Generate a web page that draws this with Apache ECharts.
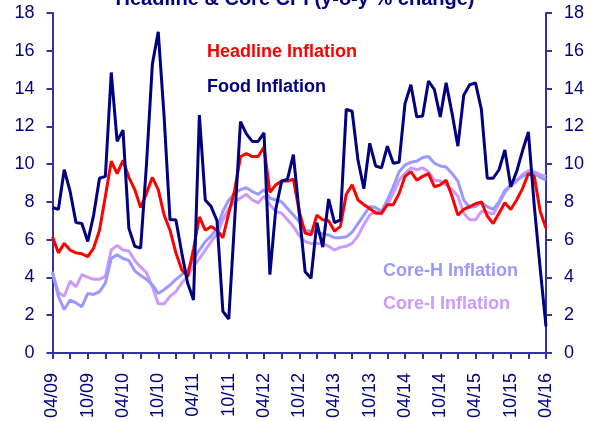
<!DOCTYPE html>
<html>
<head>
<meta charset="utf-8" />
<script src="https://cdn.jsdelivr.net/npm/echarts@6/dist/echarts.min.js"></script>
<style>
  html, body { margin: 0; padding: 0; background: #fff; }
  #chart { width: 590px; height: 421px; }
</style>
</head>
<body>
<div id="chart"></div>
<script>
// monthly, 04/09 .. 04/16
const months = [];
for (let y = 9; y <= 16; y++) {
  for (let m = 1; m <= 12; m++) {
    if ((y === 9 && m < 4) || (y === 16 && m > 4)) continue;
    months.push(String(m).padStart(2, '0') + '/' + String(y).padStart(2, '0'));
  }
}

const headline = [
  6.15, 5.3, 5.8, 5.45, 5.3, 5.25, 5.1, 5.55, 6.5, 8.3, 10.15, 9.5, 10.2, 9.3, 8.65, 7.7, 8.45,
  9.3, 8.65, 7.3, 6.5, 5.3, 4.4, 4.05, 5.5, 7.2, 6.5, 6.7, 6.5, 6.1, 7.4, 8.6, 10.4, 10.55,
  10.4, 10.4, 10.9, 8.5, 8.9, 9.1, 9.1, 9.2, 7.5, 6.35, 6.25, 7.3, 7.05, 7.0, 6.45, 6.7, 8.4,
  8.9, 8.1, 7.85, 7.65, 7.4, 7.4, 7.85, 7.85, 8.45, 9.35, 9.6, 9.15, 9.35, 9.5, 8.8, 8.9, 9.15,
  8.3, 7.3, 7.6, 7.75, 7.9, 8.0, 7.25, 6.85, 7.4, 7.95, 7.6, 8.1, 8.7, 9.5, 9.35, 7.5, 6.6
];
const food = [
  7.7, 7.6, 9.7, 8.55, 6.9, 6.85, 5.9, 7.3, 9.25, 9.35, 14.85, 11.2, 11.8, 6.6, 5.65, 5.55, 10.0,
  15.3, 17.0, 12.5, 7.05, 7.05, 5.3, 3.7, 2.8, 12.6, 8.1, 7.75, 7.0, 2.2, 1.8, 7.0, 12.25, 11.6,
  11.2, 11.2, 11.65, 4.15, 7.6, 9.1, 9.2, 10.5, 7.4, 4.3, 3.95, 6.9, 5.6, 8.15, 6.9, 7.05, 12.9,
  12.8, 10.2, 8.7, 11.1, 9.9, 9.8, 10.95, 10.05, 10.1, 13.2, 14.2, 12.5, 12.55, 14.4, 13.95, 12.5, 14.3,
  12.7, 10.95, 13.65, 14.2, 14.3, 12.9, 9.25, 9.25, 9.7, 10.75, 8.8, 9.6, 10.7, 11.7, 7.8, 4.5, 1.4
];
const coreH = [
  4.3, 3.0, 2.3, 2.8, 2.65, 2.45, 3.15, 3.1, 3.25, 3.7, 5.0, 5.2, 5.0, 4.9, 4.35, 4.1, 3.9,
  3.6, 3.15, 3.35, 3.6, 3.9, 4.15, 4.4, 4.95, 5.45, 5.9, 6.2, 6.6, 7.5, 8.1, 8.45, 8.65, 8.75,
  8.55, 8.4, 8.65, 8.2, 8.1, 8.0, 7.65, 7.3, 6.95, 6.5, 6.45, 6.4, 6.3, 6.25, 6.1, 6.1, 6.15,
  6.4, 6.85, 7.3, 7.75, 7.7, 7.5, 8.1, 8.8, 9.6, 9.95, 10.1, 10.15, 10.35, 10.4, 10.05, 9.9, 9.85,
  9.5, 9.1, 8.1, 7.7, 7.75, 7.95, 7.75, 7.6, 8.0, 8.6, 8.9, 9.15, 9.35, 9.5, 9.5, 9.3, 9.15
];
const coreI = [
  4.2, 3.2, 3.0, 3.8, 3.5, 4.15, 4.0, 3.9, 3.9, 4.05, 5.45, 5.7, 5.45, 5.4, 4.9, 4.55, 4.25,
  3.5, 2.6, 2.6, 3.0, 3.25, 3.7, 4.05, 4.6, 5.0, 5.45, 5.9, 6.3, 7.05, 7.65, 8.0, 8.2, 8.4,
  8.1, 7.95, 8.3, 7.85, 7.5, 7.4, 7.05, 6.7, 6.2, 5.9, 5.8, 5.8, 5.8, 5.65, 5.45, 5.6, 5.65,
  5.8, 6.2, 6.8, 7.3, 7.5, 7.35, 7.85, 8.45, 9.15, 9.5, 9.8, 9.7, 9.8, 9.6, 9.15, 9.1, 8.9,
  8.65, 8.3, 7.4, 7.05, 7.05, 7.5, 7.45, 7.35, 7.9, 8.5, 8.85, 9.1, 9.45, 9.65, 9.6, 9.45, 9.35
];

const FONT = '"Liberation Sans", Arial, sans-serif';
const axisColor = '#333399';
const labelColor = '#000080';

const yAxisBase = {
  type: 'value',
  min: 0,
  max: 18,
  interval: 2,
  axisLine: { show: true, lineStyle: { color: axisColor, width: 2 } },
  axisTick: { show: true, length: 6, lineStyle: { color: axisColor, width: 2 } },
  axisLabel: { color: labelColor, fontSize: 18, fontFamily: FONT, margin: 18 },
  splitLine: { show: false }
};

const line = (name, data, color, z) => ({
  name,
  type: 'line',
  data,
  symbol: 'none',
  z,
  lineStyle: { color, width: 3 },
  itemStyle: { color }
});

const labelText = (text, x, y, color) => ({
  type: 'text',
  x,
  y,
  style: {
    text,
    fill: color,
    font: 'bold 18px ' + FONT,
    verticalAlign: 'middle'
  }
});

const option = {
  animation: false,
  title: {
    text: 'Headline & Core CPI (y-o-y % change)',
    left: 'center',
    top: -16,
    textStyle: { color: labelColor, fontSize: 20, fontWeight: 'bold', fontFamily: FONT }
  },
  grid: { left: 52.5, right: 44, top: 13, bottom: 67.7 },
  xAxis: {
    type: 'category',
    data: months,
    boundaryGap: false,
    axisLine: { lineStyle: { color: axisColor, width: 2 } },
    axisTick: { interval: 2, length: 6, lineStyle: { color: axisColor, width: 2 } },
    axisLabel: {
      interval: 5,
      rotate: 90,
      color: labelColor,
      fontSize: 18,
      fontFamily: FONT,
      margin: 20
    }
  },
  yAxis: [
    Object.assign({}, yAxisBase, { position: 'left' }),
    Object.assign({}, yAxisBase, { position: 'right' })
  ],
  series: [
    line('Core-I Inflation', coreI, '#cc99ff', 1),
    line('Core-H Inflation', coreH, '#9999ff', 2),
    line('Headline Inflation', headline, '#ff0000', 3),
    line('Food Inflation', food, '#000080', 4)
  ],
  graphic: [
    labelText('Headline Inflation', 207, 52, '#ff0000'),
    labelText('Food Inflation', 207, 87, '#000080'),
    labelText('Core-H Inflation', 383, 271, '#9999ff'),
    labelText('Core-I Inflation', 383, 304, '#cc99ff')
  ]
};

const chart = echarts.init(document.getElementById('chart'));
chart.setOption(option);
</script>
</body>
</html>
